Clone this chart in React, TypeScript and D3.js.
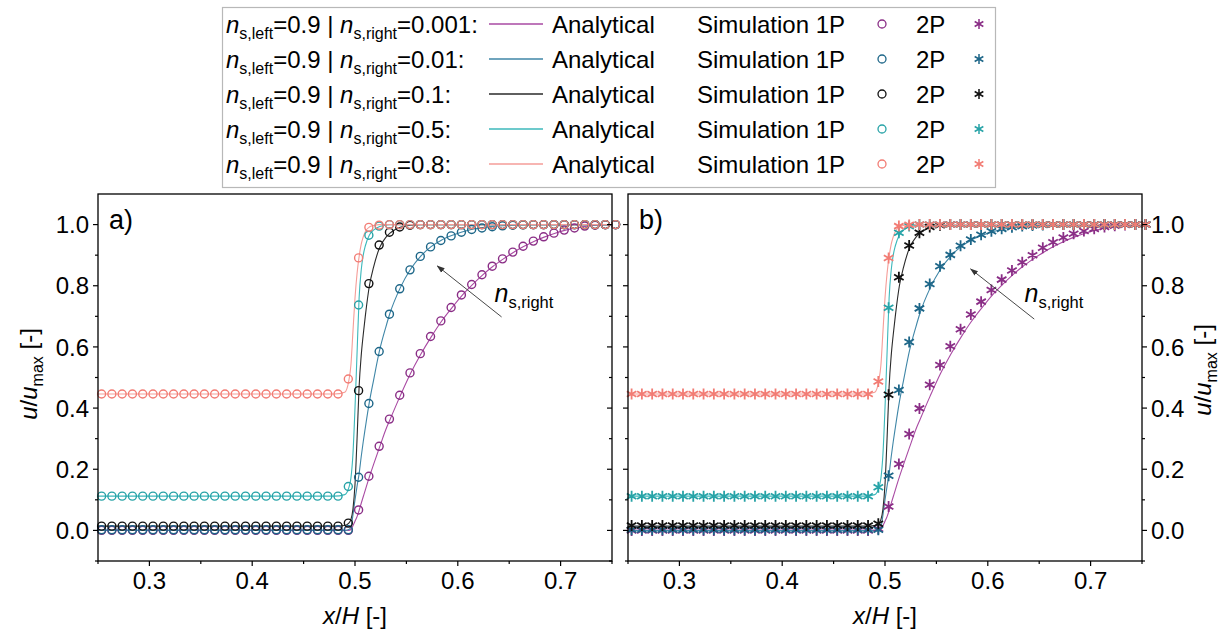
import React from 'react';
import * as d3 from 'd3';

// ---------- DATA ----------
const seriesNames = ['0.001', '0.01', '0.1', '0.5', '0.8'];

const xSim = [0.2535, 0.2635, 0.2735, 0.2835, 0.2935, 0.3035, 0.3135, 0.3235, 0.3335, 0.3435,
  0.3535, 0.3635, 0.3735, 0.3835, 0.3935, 0.4035, 0.4135, 0.4235, 0.4335, 0.4435,
  0.4535, 0.4635, 0.4735, 0.4835, 0.4935, 0.5035, 0.5135, 0.5235, 0.5335, 0.5435,
  0.5535, 0.5635, 0.5735, 0.5835, 0.5935, 0.6035, 0.6135, 0.6235, 0.6335, 0.6435,
  0.6535, 0.6635, 0.6735, 0.6835, 0.6935, 0.7035, 0.7135, 0.7235, 0.7335, 0.7435, 0.7535];

// Simulation 1P (panel a)
const sim1P_0001 = [0, 0, 0, 0, 0, 0, 0, 0, 0, 0, 0, 0, 0, 0, 0, 0, 0, 0, 0, 0, 0, 0, 0, 0, 0,
  0.067, 0.177, 0.275, 0.364, 0.442, 0.515, 0.578, 0.634, 0.685, 0.729, 0.770, 0.804, 0.836,
  0.864, 0.888, 0.910, 0.929, 0.946, 0.960, 0.972, 0.982, 0.989, 0.995, 0.998, 1.0, 1.0];
const sim1P_001 = [0.002, 0.002, 0.002, 0.002, 0.002, 0.002, 0.002, 0.002, 0.002, 0.002, 0.002, 0.002,
  0.002, 0.002, 0.002, 0.002, 0.002, 0.002, 0.002, 0.002, 0.002, 0.002, 0.002, 0.002, 0.002,
  0.174, 0.415, 0.585, 0.707, 0.790, 0.852, 0.896, 0.927, 0.948, 0.963, 0.975, 0.984, 0.989,
  0.993, 0.996, 0.998, 0.999, 1, 1, 1, 1, 1, 1, 1, 1, 1];
const sim1P_01 = [0.014, 0.014, 0.014, 0.014, 0.014, 0.014, 0.014, 0.014, 0.014, 0.014, 0.014, 0.014,
  0.014, 0.014, 0.014, 0.014, 0.014, 0.014, 0.014, 0.014, 0.014, 0.014, 0.014, 0.014,
  0.024, 0.457, 0.807, 0.933, 0.975, 0.992, 0.998,
  1, 1, 1, 1, 1, 1, 1, 1, 1, 1, 1, 1, 1, 1, 1, 1, 1, 1, 1, 1];
const sim1P_05 = [0.112, 0.112, 0.112, 0.112, 0.112, 0.112, 0.112, 0.112, 0.112, 0.112, 0.112, 0.112,
  0.112, 0.112, 0.112, 0.112, 0.112, 0.112, 0.112, 0.112, 0.112, 0.112, 0.112, 0.112,
  0.1435, 0.737, 0.965, 0.995,
  1, 1, 1, 1, 1, 1, 1, 1, 1, 1, 1, 1, 1, 1, 1, 1, 1, 1, 1, 1, 1, 1, 1];
const sim1P_08 = [0.446, 0.446, 0.446, 0.446, 0.446, 0.446, 0.446, 0.446, 0.446, 0.446, 0.446, 0.446,
  0.446, 0.446, 0.446, 0.446, 0.446, 0.446, 0.446, 0.446, 0.446, 0.446, 0.446, 0.446,
  0.495, 0.891, 0.991, 0.998,
  1, 1, 1, 1, 1, 1, 1, 1, 1, 1, 1, 1, 1, 1, 1, 1, 1, 1, 1, 1, 1, 1, 1];

// Simulation 2P (panel b)
const sim2P_0001 = [0, 0, 0, 0, 0, 0, 0, 0, 0, 0, 0, 0, 0, 0, 0, 0, 0, 0, 0, 0, 0, 0, 0, 0,
  0.005, 0.078, 0.217, 0.315, 0.399, 0.476, 0.541, 0.602, 0.658, 0.706, 0.748, 0.786, 0.820,
  0.850, 0.877, 0.900, 0.924, 0.942, 0.958, 0.970, 0.979, 0.986, 0.992, 0.996, 0.999, 1.0, 1.0];
const sim2P_001 = [0.002, 0.002, 0.002, 0.002, 0.002, 0.002, 0.002, 0.002, 0.002, 0.002, 0.002, 0.002,
  0.002, 0.002, 0.002, 0.002, 0.002, 0.002, 0.002, 0.002, 0.002, 0.002, 0.002, 0.002, 0.002,
  0.179, 0.459, 0.616, 0.726, 0.806, 0.864, 0.901, 0.931, 0.951, 0.967, 0.978, 0.986, 0.991,
  0.995, 0.997, 0.999, 1, 1, 1, 1, 1, 1, 1, 1, 1, 1];
const sim2P_01 = [0.016, 0.016, 0.016, 0.016, 0.016, 0.016, 0.016, 0.016, 0.016, 0.016, 0.016, 0.016,
  0.016, 0.016, 0.016, 0.016, 0.016, 0.016, 0.016, 0.016, 0.016, 0.016, 0.016, 0.016,
  0.022, 0.4435, 0.828, 0.9315, 0.973, 0.992, 0.998,
  1, 1, 1, 1, 1, 1, 1, 1, 1, 1, 1, 1, 1, 1, 1, 1, 1, 1, 1, 1];
const sim2P_05 = [0.112, 0.112, 0.112, 0.112, 0.112, 0.112, 0.112, 0.112, 0.112, 0.112, 0.112, 0.112,
  0.112, 0.112, 0.112, 0.112, 0.112, 0.112, 0.112, 0.112, 0.112, 0.112, 0.112, 0.112,
  0.141, 0.728, 0.973, 0.995,
  1, 1, 1, 1, 1, 1, 1, 1, 1, 1, 1, 1, 1, 1, 1, 1, 1, 1, 1, 1, 1, 1, 1];
const sim2P_08 = [0.446, 0.446, 0.446, 0.446, 0.446, 0.446, 0.446, 0.446, 0.446, 0.446, 0.446, 0.446,
  0.446, 0.446, 0.446, 0.446, 0.446, 0.446, 0.446, 0.446, 0.446, 0.446, 0.446, 0.446,
  0.487, 0.891, 0.995, 0.999,
  1, 1, 1, 1, 1, 1, 1, 1, 1, 1, 1, 1, 1, 1, 1, 1, 1, 1, 1, 1, 1, 1, 1];

// Analytical solution
const xAn = [0.25, 0.48, 0.49, 0.494, 0.496, 0.498, 0.5, 0.502, 0.504, 0.506, 0.508, 0.51, 0.514,
  0.518, 0.524, 0.53, 0.534, 0.544, 0.554, 0.564, 0.574, 0.584, 0.594, 0.604, 0.614, 0.624,
  0.634, 0.644, 0.654, 0.664, 0.674, 0.684, 0.694, 0.704, 0.714, 0.724, 0.734, 0.744, 0.75];
const an_0001 = [0, 0, 0, 0, 0.003, 0.015, 0.03, 0.045, 0.065, 0.088, 0.11, 0.132, 0.175, 0.215,
  0.273, 0.33, 0.362, 0.44, 0.513, 0.576, 0.632, 0.683, 0.727, 0.768, 0.803, 0.835, 0.863,
  0.887, 0.909, 0.928, 0.945, 0.959, 0.971, 0.981, 0.988, 0.994, 0.998, 1, 1];
const an_001 = [0, 0, 0, 0.003, 0.01, 0.05, 0.10, 0.145, 0.185, 0.24, 0.29, 0.335, 0.42, 0.49,
  0.59, 0.665, 0.71, 0.793, 0.854, 0.897, 0.928, 0.949, 0.964, 0.976, 0.985, 0.99, 0.994,
  0.996, 0.998, 0.999, 1, 1, 1, 1, 1, 1, 1, 1, 1];
const an_01 = [0.014, 0.014, 0.016, 0.024, 0.035, 0.07, 0.15, 0.30, 0.47, 0.57, 0.64, 0.70, 0.80,
  0.86, 0.925, 0.958, 0.972, 0.991, 0.998, 1, 1, 1, 1, 1, 1, 1, 1, 1, 1, 1, 1, 1, 1, 1, 1, 1, 1, 1, 1];
const an_05 = [0.112, 0.112, 0.117, 0.14, 0.17, 0.25, 0.40, 0.58, 0.76, 0.85, 0.9, 0.93, 0.966,
  0.982, 0.994, 0.998, 1, 1, 1, 1, 1, 1, 1, 1, 1, 1, 1, 1, 1, 1, 1, 1, 1, 1, 1, 1, 1, 1, 1];
const an_08 = [0.446, 0.446, 0.452, 0.49, 0.54, 0.65, 0.76, 0.84, 0.895, 0.935, 0.96, 0.977,
  0.992, 0.997, 1, 1, 1, 1, 1, 1, 1, 1, 1, 1, 1, 1, 1, 1, 1, 1, 1, 1, 1, 1, 1, 1, 1, 1, 1];

const xTicks = [0.3, 0.4, 0.5, 0.6, 0.7];
const xMinor = [0.25, 0.35, 0.45, 0.55, 0.65, 0.75];
const yTicks = [0.0, 0.2, 0.4, 0.6, 0.8, 1.0];
const yMinor = [-0.1, 0.1, 0.3, 0.5, 0.7, 0.9];

// arrow annotation (data coords): [x1, y1, x2, y2] tail -> head
const arrowA = [0.6426, 0.698, 0.5801, 0.8646];
const arrowB = [0.6452, 0.691, 0.5833, 0.855];
const labelPos = [0.6357, 0.747];

// ---------- STYLE ----------
const markerColors = ['#8A2E86', '#1D6688', '#111111', '#27A3A7', '#F27C74'];
const lineColors = ['#A94AA3', '#3F86A7', '#2a2a2a', '#3CB8BB', '#F59D98'];
const FONT = '"Liberation Sans", Arial, Helvetica, sans-serif';

const sim1P = [sim1P_0001, sim1P_001, sim1P_01, sim1P_05, sim1P_08];
const sim2P = [sim2P_0001, sim2P_001, sim2P_01, sim2P_05, sim2P_08];
const analytical = [an_0001, an_001, an_01, an_05, an_08];

const yScale = d3.scaleLinear().domain([-0.1, 1.1]).range([561, 194]);
const xA = d3.scaleLinear().domain([0.25, 0.75]).range([98, 612]);
const xB = d3.scaleLinear().domain([0.25, 0.75]).range([628, 1142]);

function asteriskPath(r: number) {
  const c = Math.cos(Math.PI / 6) * r;
  const s = Math.sin(Math.PI / 6) * r;
  return `M0,${-r}L0,${r}M${-c},${-s}L${c},${s}M${-c},${s}L${c},${-s}`;
}

function Panel({ x, kind, label, side }: { x: d3.ScaleLinear<number, number>; kind: 'circle' | 'star'; label: string; side: 'left' | 'right' }) {
  const [x0, x1] = x.range();
  const [yb, yt] = yScale.range();
  const line = d3.line<[number, number]>().x(d => x(d[0])).y(d => yScale(d[1])).curve(d3.curveMonotoneX);
  const data = kind === 'circle' ? sim1P : sim2P;
  const arrow = kind === 'circle' ? arrowA : arrowB;
  const fmt = d3.format('.1f');
  const lblX = side === 'left' ? x0 : x1;
  const dir = side === 'left' ? -1 : 1;
  const otherX = side === 'left' ? x1 : x0;
  const mirrorDir = -1;
  return (
    <g>
      {analytical.map((vals, i) => (
        <path key={'l' + i} d={line(xAn.map((xv, j) => [xv, vals[j]] as [number, number])) || ''}
          fill="none" stroke={lineColors[i]} strokeWidth={1.1} />
      ))}
      {data.map((vals, i) => (
        <g key={'m' + i}>
          {vals.map((v, j) =>
            kind === 'circle' ? (
              <circle key={j} cx={x(xSim[j])} cy={yScale(v)} r={4} fill="none" stroke={markerColors[i]} strokeWidth={1.4} />
            ) : (
              <path key={j} d={asteriskPath(5.5)} transform={`translate(${x(xSim[j])},${yScale(v)})`} fill="none" stroke={markerColors[i]} strokeWidth={1.8} />
            )
          )}
        </g>
      ))}
      <rect x={x0} y={yt} width={x1 - x0} height={yb - yt} fill="none" stroke="#000" strokeWidth={1.3} />
      {xTicks.map(t => (
        <g key={'xt' + t}>
          <line x1={x(t)} x2={x(t)} y1={yb} y2={yb + 5} stroke="#000" strokeWidth={1.2} />
          <text x={x(t)} y={588.5} textAnchor="middle" fontSize={24} fontFamily={FONT}>{fmt(t)}</text>
        </g>
      ))}
      {xMinor.map(t => (
        <line key={'xm' + t} x1={x(t)} x2={x(t)} y1={yb} y2={yb + 3} stroke="#000" strokeWidth={1.2} />
      ))}
      {yTicks.map(t => (
        <g key={'yt' + t}>
          <line x1={lblX} x2={lblX + dir * 5} y1={yScale(t)} y2={yScale(t)} stroke="#000" strokeWidth={1.2} />
          <line x1={otherX} x2={otherX + mirrorDir * 5} y1={yScale(t)} y2={yScale(t)} stroke="#000" strokeWidth={1.2} />
          <text x={lblX + dir * 9} y={yScale(t) + 8.6} textAnchor={side === 'left' ? 'end' : 'start'} fontSize={24} fontFamily={FONT}>{fmt(t)}</text>
        </g>
      ))}
      {yMinor.map(t => (
        <g key={'ym' + t}>
          <line x1={lblX} x2={lblX + dir * 3} y1={yScale(t)} y2={yScale(t)} stroke="#000" strokeWidth={1.2} />
          <line x1={otherX} x2={otherX + mirrorDir * 3} y1={yScale(t)} y2={yScale(t)} stroke="#000" strokeWidth={1.2} />
        </g>
      ))}
      <text x={x0 + 11} y={229} fontSize={27} fontFamily={FONT}>{label}</text>
      <line x1={x(arrow[0])} y1={yScale(arrow[1])} x2={x(arrow[2])} y2={yScale(arrow[3])} stroke="#333" strokeWidth={0.9} markerEnd="url(#arrowHead)" />
      <text x={x(labelPos[0])} y={yScale(labelPos[1])} fontSize={25} fontFamily={FONT}>
        <tspan fontStyle="italic">n</tspan>
        <tspan fontSize={16.5} dy={6}>s,right</tspan>
      </text>
      <text x={(x0 + x1) / 2} y={624} textAnchor="middle" fontSize={24} fontFamily={FONT}>
        <tspan fontStyle="italic">x</tspan>/<tspan fontStyle="italic">H</tspan> [-]
      </text>
    </g>
  );
}

function YTitle({ cx, cy }: { cx: number; cy: number }) {
  return (
    <text transform={`translate(${cx},${cy}) rotate(-90)`} textAnchor="middle" fontSize={24} fontFamily={FONT}>
      <tspan fontStyle="italic">u</tspan>/<tspan fontStyle="italic">u</tspan>
      <tspan fontSize={16} dy={6}>max</tspan>
      <tspan dy={-6}> [-]</tspan>
    </text>
  );
}

function Legend() {
  const rows = seriesNames.map((n, i) => ({ n, i, by: 33 + 35 * i }));
  return (
    <g fontFamily={FONT} fontSize={24}>
      <rect x={222.5} y={7.5} width={773} height={180} fill="#fff" stroke="#b8b8b8" strokeWidth={1.2} />
      {rows.map(r => (
        <g key={r.n}>
          <text x={226} y={r.by}>
            <tspan fontStyle="italic">n</tspan>
            <tspan fontSize={16} dy={6}>s,left</tspan>
            <tspan dy={-6}>=0.9 | </tspan>
            <tspan fontStyle="italic">n</tspan>
            <tspan fontSize={16} dy={6}>s,right</tspan>
            <tspan dy={-6}>={r.n}:</tspan>
          </text>
          <line x1={489} x2={543} y1={r.by - 9} y2={r.by - 9} stroke={lineColors[r.i]} strokeWidth={1.3} />
          <text x={552} y={r.by}>Analytical</text>
          <text x={697} y={r.by}>Simulation 1P</text>
          <circle cx={882} cy={r.by - 9} r={4} fill="none" stroke={markerColors[r.i]} strokeWidth={1.3} />
          <text x={916} y={r.by}>2P</text>
          <path d={asteriskPath(5)} transform={`translate(${979},${r.by - 9})`} fill="none" stroke={markerColors[r.i]} strokeWidth={1.5} />
        </g>
      ))}
    </g>
  );
}

export default function App() {
  return (
    <svg width={1222} height={633} style={{ position: 'absolute', left: 0, top: 0, background: '#fff' }}>
      <defs>
        <marker id="arrowHead" viewBox="0 0 10 10" refX="9" refY="5" markerWidth="8" markerHeight="8" orient="auto" markerUnits="userSpaceOnUse">
          <path d="M0,1.5 L10,5 L0,8.5 Z" fill="#333" />
        </marker>
      </defs>
      <rect x={0} y={0} width={1222} height={633} fill="#fff" />
      <Panel x={xA} kind="circle" label="a)" side="left" />
      <Panel x={xB} kind="star" label="b)" side="right" />
      <YTitle cx={37} cy={374} />
      <YTitle cx={1211} cy={370} />
      <Legend />
    </svg>
  );
}
